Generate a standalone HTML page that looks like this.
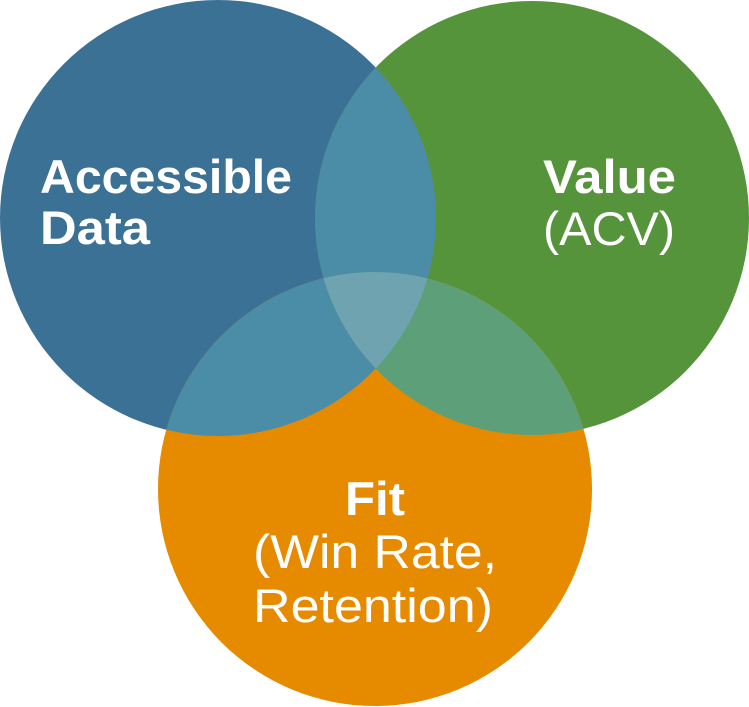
<!DOCTYPE html>
<html><head><style>
html,body{margin:0;padding:0;background:#fff;}
svg{display:block;}
text{font-family:"Liberation Sans",Arial,sans-serif;fill:#fff;font-size:47px;}
.b{font-weight:bold;}
</style></head><body>
<svg width="749" height="707" viewBox="0 0 749 707" xmlns="http://www.w3.org/2000/svg">
<defs>
<clipPath id="cb"><circle cx="218" cy="218" r="218"/></clipPath>
<clipPath id="cg"><circle cx="532" cy="218" r="217"/></clipPath>
<clipPath id="co"><circle cx="375" cy="489" r="217"/></clipPath>
</defs>
<circle cx="218" cy="218" r="218" fill="#3b7195"/>
<circle cx="532" cy="218" r="217" fill="#56943b"/>
<circle cx="375" cy="489" r="217" fill="#e68a00"/>
<g clip-path="url(#cb)"><circle cx="532" cy="218" r="217" fill="#4b8ca6"/><circle cx="375" cy="489" r="217" fill="#4b8ca6"/></g>
<g clip-path="url(#cg)"><circle cx="375" cy="489" r="217" fill="#5c9f79"/></g>
<g clip-path="url(#cb)"><g clip-path="url(#cg)"><circle cx="375" cy="489" r="217" fill="#6fa3b0"/></g></g>
<text class="b" x="40" y="193" textLength="252" lengthAdjust="spacingAndGlyphs">Accessible</text>
<text class="b" x="40" y="244" textLength="110" lengthAdjust="spacingAndGlyphs">Data</text>
<text class="b" x="543" y="193" textLength="133" lengthAdjust="spacingAndGlyphs">Value</text>
<text x="543" y="245" textLength="132" lengthAdjust="spacingAndGlyphs">(ACV)</text>
<text class="b" x="345" y="515" textLength="60" lengthAdjust="spacingAndGlyphs">Fit</text>
<text x="253" y="568" textLength="244" lengthAdjust="spacingAndGlyphs">(Win Rate,</text>
<text x="253" y="622" textLength="240" lengthAdjust="spacingAndGlyphs">Retention)</text>
</svg>
</body></html>
